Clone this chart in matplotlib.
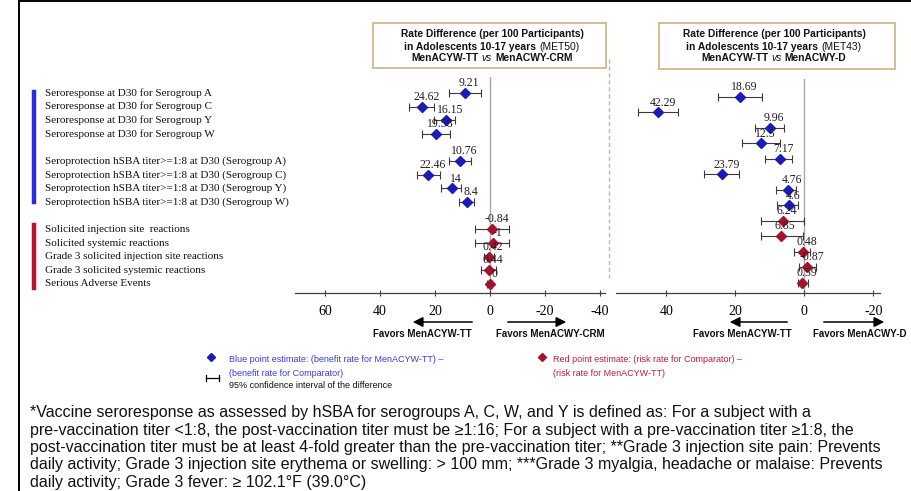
import matplotlib
matplotlib.use("Agg")
import matplotlib.pyplot as plt
from matplotlib import font_manager
from matplotlib.lines import Line2D
from matplotlib.patches import Rectangle, FancyArrowPatch
from matplotlib.transforms import blended_transform_factory

# ---------------- data ----------------
row_labels = [
    "Seroresponse at D30 for Serogroup A",
    "Seroresponse at D30 for Serogroup C",
    "Seroresponse at D30 for Serogroup Y",
    "Seroresponse at D30 for Serogroup W",
    "Seroprotection hSBA titer>=1:8 at D30 (Serogroup A)",
    "Seroprotection hSBA titer>=1:8 at D30 (Serogroup C)",
    "Seroprotection hSBA titer>=1:8 at D30 (Serogroup Y)",
    "Seroprotection hSBA titer>=1:8 at D30 (Serogroup W)",
    "Solicited injection site  reactions",
    "Solicited systemic reactions",
    "Grade 3 solicited injection site reactions",
    "Grade 3 solicited systemic reactions",
    "Serious Adverse Events",
]
row_kind = ["benefit"] * 8 + ["risk"] * 5

met50_est = [9.21, 24.62, 16.15, 19.58, 10.76, 22.46, 14, 8.4, -0.84, -1, 0.42, 0.44, 0]
met50_lo = [3.4, 20.4, 12.6, 14.4, 7.0, 18.3, 10.6, 5.9, -7.0, -7.0, -1.5, -2.1, -0.8]
met50_hi = [15.0, 29.3, 20.4, 24.7, 15.0, 26.5, 17.9, 11.4, 5.5, 5.4, 2.2, 3.3, 1.2]

met43_est = [18.69, 42.29, 9.96, 12.5, 7.17, 23.79, 4.76, 4.6, 6.24, 6.85, 0.48, -0.87, 0.59]
met43_lo = [12.3, 36.6, 5.9, 7.1, 3.7, 19.0, 2.4, 2.0, 0.0, 0.5, -1.5, -3.3, -1.0]
met43_hi = [24.9, 48.2, 14.4, 18.0, 11.3, 29.0, 8.1, 7.9, 12.5, 12.7, 2.9, 1.5, 2.0]

met50_ticks = [60, 40, 20, 0, -20, -40]
met43_ticks = [40, 20, 0, -20]

footnote_lines = [
    "*Vaccine seroresponse as assessed by hSBA for serogroups A, C, W, and Y is defined as: For a subject with a",
    "pre-vaccination titer <1:8, the post-vaccination titer must be \u22651:16; For a subject with a pre-vaccination titer \u22651:8, the",
    "post-vaccination titer must be at least 4-fold greater than the pre-vaccination titer; **Grade 3 injection site pain: Prevents",
    "daily activity; Grade 3 injection site erythema or swelling: > 100 mm; ***Grade 3 myalgia, headache or malaise: Prevents",
    "daily activity; Grade 3 fever: \u2265 102.1\u00b0F (39.0\u00b0C)",
]

# ---------------- style ----------------
W, H = 912, 491
names = {f.name for f in font_manager.fontManager.ttflist}
SERIF = "Liberation Serif" if "Liberation Serif" in names else "DejaVu Serif"
SANS = "Liberation Sans" if "Liberation Sans" in names else "DejaVu Sans"
NARROW = "Liberation Sans Narrow" if "Liberation Sans Narrow" in names else SANS

BLUE = "#1c1cb4"
RED = "#a3122e"
BLUE_TXT = "#3c3ce0"
RED_TXT = "#c0203c"
TAN = "#cfb88c"
GREY = "#a8a8a8"

fig = plt.figure(figsize=(W / 100, H / 100), dpi=100)


def fx(x):
    return x / W


def fy(y):
    return 1 - y / H


def add_axes_px(x0, x1, ytop, ybot):
    return fig.add_axes([fx(x0), fy(ybot), (x1 - x0) / W, (ybot - ytop) / H])


# positions of rows
left_pos = [0, 1, 2, 3, 5, 6, 7, 8, 10, 11, 12, 13, 14]
right_pos = list(range(13))

axL = add_axes_px(295, 605, 77, 293)
axL.set_xlim(70.9, -41.8)
axL.set_ylim(14.66, -1.17)

axR = add_axes_px(616, 880, 79, 293)
axR.set_xlim(54.6, -21.9)
axR.set_ylim(12.65, -1.16)


def draw_panel(ax, pos, est, lo, hi, ticks):
    for s in ["top", "right", "left"]:
        ax.spines[s].set_visible(False)
    ax.spines["bottom"].set_color("#404040")
    ax.spines["bottom"].set_linewidth(0.9)
    ax.set_yticks([])
    ax.set_xticks(ticks)
    ax.set_xticklabels([str(t) for t in ticks], fontfamily=SERIF, fontsize=10)
    ax.tick_params(axis="x", direction="inout", length=5, width=0.8,
                   color="#404040", pad=6)
    ax.axvline(0, color=GREY, lw=1.0, zorder=1)
    ax.patch.set_alpha(0)
    for p, e, l, h, k in zip(pos, est, lo, hi, row_kind):
        c = BLUE if k == "benefit" else RED
        ax.errorbar([e], [p], xerr=[[e - l], [h - e]], fmt="none",
                    ecolor="#3a3a3a", elinewidth=0.8, capsize=2.6,
                    capthick=0.8, zorder=2)
        ax.plot([e], [p], marker="D", ms=5, color=c, mec=c, zorder=3, ls="none")
        ax.annotate(f"{e:g}", (e, p), xytext=(3, 5), textcoords="offset points",
                    ha="center", va="baseline", fontfamily=SERIF, fontsize=8.5,
                    color="#202020", zorder=4)


draw_panel(axL, left_pos, met50_est, met50_lo, met50_hi, met50_ticks)
draw_panel(axR, right_pos, met43_est, met43_lo, met43_hi, met43_ticks)

# row labels tied to left panel rows
trans = blended_transform_factory(fig.transFigure, axL.transData)
for p, lab in zip(left_pos, row_labels):
    fig.text(fx(45), p, lab, transform=trans, fontfamily=SERIF, fontsize=8.05,
             ha="left", va="center", color="#111111")

# coloured group bars
fig.add_artist(Line2D([fx(34), fx(34)], [fy(92), fy(202)], color="#2b2be0", lw=3.2))
fig.add_artist(Line2D([fx(34), fx(34)], [fy(225), fy(288)], color="#b8142e", lw=3.2))

# frame lines
fig.add_artist(Line2D([fx(19), fx(912)], [fy(1), fy(1)], color="black", lw=1.4))
fig.add_artist(Line2D([fx(19), fx(19)], [fy(0), fy(491)], color="black", lw=1.4))

# dashed separator
fig.add_artist(Line2D([fx(609), fx(609)], [fy(59), fy(278)], color=TAN, lw=1.0,
                      ls=(0, (3, 2))))

# header boxes
for (x0, y0, x1, y1) in [(373, 23, 606, 68), (659, 23, 895, 69)]:
    fig.add_artist(Rectangle((fx(x0), fy(y1)), (x1 - x0) / W, (y1 - y0) / H,
                             transform=fig.transFigure, fill=False,
                             edgecolor=TAN, lw=1.3))

renderer = fig.canvas.get_renderer()


def mixed_line(cx, y, parts, size, family, gap_frac=0.28):
    texts = []
    for s, kw in parts:
        t = fig.text(0, 0, s, fontsize=size, fontfamily=family, ha="left",
                     va="center", color="#111111", **kw)
        texts.append(t)
    widths = [t.get_window_extent(renderer).width for t in texts]
    gap = size * 100 / 72 * gap_frac
    total = sum(widths) + gap * (len(texts) - 1)
    x = cx - total / 2
    for t, w in zip(texts, widths):
        t.set_position((fx(x), fy(y)))
        x += w + gap


B = {"fontweight": "bold"}
N = {"fontweight": "normal"}
I = {"fontweight": "normal", "fontstyle": "italic"}
HS = 7.4
for cx, study, comp in [(492, "(MET50)", "MenACWY-CRM"), (774, "(MET43)", "MenACWY-D")]:
    mixed_line(cx, 34, [("Rate Difference (per 100 Participants)", B)], HS, NARROW)
    mixed_line(cx, 47, [("in Adolescents 10-17 years", B), (study, N)], HS, NARROW)
    mixed_line(cx, 58, [("MenACYW-TT", B), ("vs", I), (comp, B)], HS, NARROW)

# favours arrows
arrow_kw = dict(arrowstyle="-|>,head_length=0.6,head_width=0.3", color="black", lw=1.1)
for (xs, xe) in [(475, 410), (505, 569), (790, 727), (821, 887)]:
    fig.add_artist(FancyArrowPatch(
        (fx(xs), fy(322)), (fx(xe), fy(322)), transform=fig.transFigure,
        mutation_scale=10, **arrow_kw))
for cx, s in [(422, "Favors MenACYW-TT"), (550, "Favors MenACWY-CRM"),
              (742, "Favors MenACYW-TT"), (860, "Favors MenACWY-D")]:
    fig.text(fx(cx), fy(334), s, fontfamily=SANS, fontsize=7, fontweight="bold",
             ha="center", va="center", color="#111111")

# legend
fig.add_artist(Line2D([fx(211)], [fy(357)], marker="D", ms=4, color=BLUE, ls="none"))
fig.add_artist(Line2D([fx(542)], [fy(357)], marker="D", ms=4, color=RED, ls="none"))
fig.add_artist(Line2D([fx(206), fx(219)], [fy(378), fy(378)], color="black", lw=0.9))
fig.add_artist(Line2D([fx(206), fx(206)], [fy(375), fy(381)], color="black", lw=0.9))
fig.add_artist(Line2D([fx(219), fx(219)], [fy(375), fy(381)], color="black", lw=0.9))
LS = 6.5
fig.text(fx(229), fy(360), "Blue point estimate: (benefit rate for MenACYW-TT) \u2013",
         fontfamily=NARROW, fontsize=LS, color=BLUE_TXT, va="center", ha="left")
fig.text(fx(229), fy(373), "(benefit rate for Comparator)",
         fontfamily=NARROW, fontsize=LS, color=BLUE_TXT, va="center", ha="left")
fig.text(fx(229), fy(386), "95% confidence interval of the difference",
         fontfamily=NARROW, fontsize=LS, color="#111111", va="center", ha="left")
fig.text(fx(553), fy(360), "Red point estimate: (risk rate for Comparator) \u2013",
         fontfamily=NARROW, fontsize=LS, color=RED_TXT, va="center", ha="left")
fig.text(fx(553), fy(373), "(risk rate for MenACYW-TT)",
         fontfamily=NARROW, fontsize=LS, color=RED_TXT, va="center", ha="left")

# footnote
for i, line in enumerate(footnote_lines):
    fig.text(fx(30), fy(417 + 17.5 * i), line, fontfamily=[SANS, "DejaVu Sans"],
             fontsize=11.5, color="#111111", va="baseline", ha="left")

fig.savefig("out.png", dpi=100)
